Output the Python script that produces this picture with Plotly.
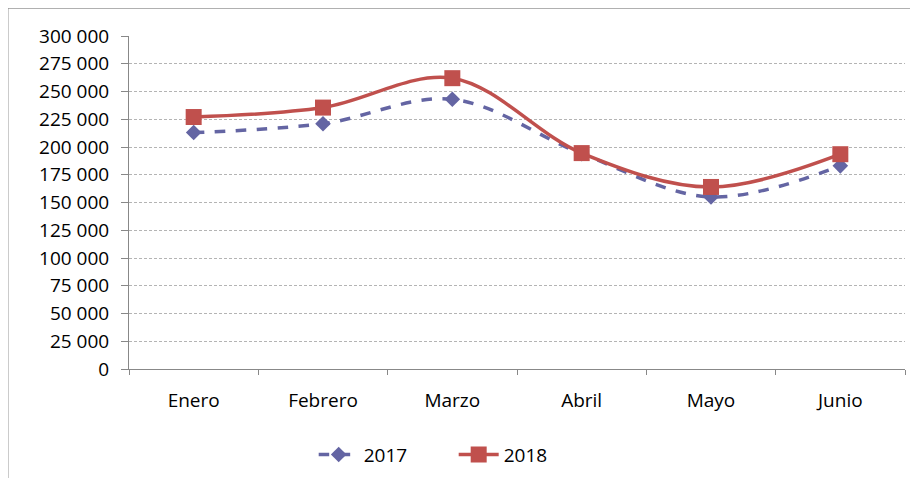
import plotly.graph_objects as go

months = ["Enero", "Febrero", "Marzo", "Abril", "Mayo", "Junio"]
v2017 = [213000, 221000, 243000, 194000, 155000, 183000]
v2018 = [227000, 235500, 262000, 194500, 164000, 193500]
yticks = list(range(0, 300001, 25000))
yticktext = [f"{v:,}".replace(",", " ") for v in yticks]

fig = go.Figure()
fig.add_trace(go.Scatter(
    x=months, y=v2017, name="2017", mode="lines+markers",
    line=dict(color="#6465A3", width=3.5, dash="dash", shape="spline", smoothing=1.0),
    marker=dict(symbol="diamond", size=12, color="#6465A3"),
))
fig.add_trace(go.Scatter(
    x=months, y=v2018, name="2018", mode="lines+markers",
    line=dict(color="#C0504D", width=3.5, shape="spline", smoothing=1.0),
    marker=dict(symbol="square", size=16, color="#C0504D"),
))

fig.add_shape(type="rect", xref="paper", yref="paper",
              x0=-0.156, y0=-0.36, x1=1.04, y1=1.0836,
              line=dict(color="#888888", width=1), fillcolor="rgba(0,0,0,0)", layer="below")

fig.update_layout(
    width=918, height=478,
    margin=dict(l=121, r=21, t=28, b=115),
    paper_bgcolor="white", plot_bgcolor="white",
    font=dict(family="Open Sans", size=19, color="black"),
    showlegend=True,
    legend=dict(orientation="h", x=0.238, xanchor="left", y=-0.2, yanchor="top",
                font=dict(size=19), itemwidth=40, entrywidth=85, entrywidthmode="pixels",
                traceorder="normal"),
    xaxis=dict(
        type="category", range=[-0.5, 5.5],
        showline=True, linecolor="#888888", linewidth=1,
        ticks="outside", ticklen=5, tickcolor="#888888", tickson="boundaries",
        showgrid=False, zeroline=False, ticklabelstandoff=14,
    ),
    yaxis=dict(
        range=[0, 300000], tickvals=yticks, ticktext=yticktext,
        showline=True, linecolor="#888888", linewidth=1,
        ticks="outside", ticklen=7, tickcolor="#888888", ticklabelstandoff=8,
        showgrid=True, gridcolor="#B4B4B4", griddash="3px,2px", gridwidth=1,
        zeroline=False,
    ),
)

fig.write_html("out.html")
